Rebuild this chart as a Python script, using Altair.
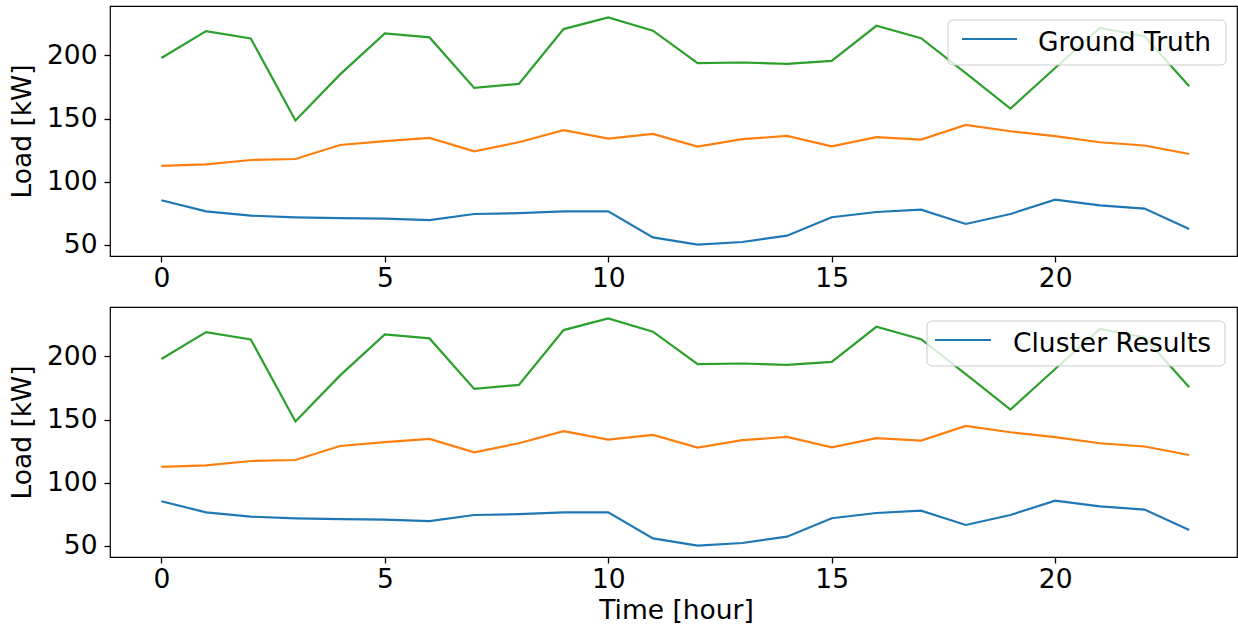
import altair as alt
import pandas as pd

# ---- data ----
hours = list(range(24))
load_blue = [85.2, 76.4, 73.0, 71.7, 71.1, 70.6, 69.5, 74.3, 75.0, 76.4, 76.4, 55.8,
             50.0, 52.1, 57.1, 71.7, 75.9, 77.8, 66.4, 74.3, 85.7, 81.2, 78.6, 62.4]
load_orange = [112.4, 113.7, 117.1, 117.9, 129.0, 132.0, 134.6, 124.0, 131.2, 140.7, 134.1, 137.8,
               127.8, 133.6, 136.2, 128.0, 135.2, 133.3, 144.9, 139.9, 136.0, 131.2, 128.6, 121.9]
load_green = [198.0, 219.3, 213.5, 148.4, 185.0, 217.5, 214.3, 174.3, 177.5, 220.9, 230.2, 219.6,
              193.9, 194.4, 193.3, 195.7, 223.5, 213.7, 186.0, 157.9, 190.0, 221.9, 215.3, 175.6]
series_keys = ["Cluster 1", "Cluster 2", "Cluster 3"]
series_colors = ["#1f77b4", "#ff7f0e", "#2ca02c"]
panel_labels = ["Ground Truth", "Cluster Results"]
x_ticks = [0, 5, 10, 15, 20]
y_ticks = [50, 100, 150, 200]

rows = []
for key, vals in zip(series_keys, [load_blue, load_orange, load_green]):
    for h, v in zip(hours, vals):
        rows.append({"hour": h, "load": v, "series": key})
df = pd.DataFrame(rows)

FONT = "DejaVu Sans"
FS = 26.5
W, H = 1127, 250

# legend geometry per panel (pixels inside the panel)
legend_geom = [
    dict(bx0=838, bx1=1116, lx0=852, lx1=907, tx=928),
    dict(bx0=817, bx1=1115, lx0=825, lx1=881, tx=903),
]


def panel(i, bottom):
    x_axis_kwargs = dict(values=x_ticks, domain=False, grid=False, tickSize=6, tickWidth=1.3,
                         tickColor="black", labelFont=FONT, labelFontSize=FS, labelColor="black",
                         labelPadding=3)
    if bottom:
        x_axis = alt.Axis(title="Time [hour]", titleFont=FONT, titleFontSize=FS,
                          titleFontWeight="normal", titleColor="black", titleX=566, titleY=61,
                          titleBaseline="alphabetic", titleAlign="center", **x_axis_kwargs)
    else:
        x_axis = alt.Axis(title=None, **x_axis_kwargs)
    y_axis = alt.Axis(values=y_ticks, domain=False, grid=False, tickSize=6, tickWidth=1.3,
                      tickColor="black", labelFont=FONT, labelFontSize=FS, labelColor="black",
                      labelPadding=7, title="Load [kW]", titleFont=FONT, titleFontSize=FS,
                      titleFontWeight="normal", titleColor="black", titleAngle=270,
                      titleX=-80, titleY=125, titleAlign="center", titleBaseline="alphabetic")
    lines = alt.Chart(df).mark_line(strokeWidth=2.2).encode(
        x=alt.X("hour:Q", scale=alt.Scale(domain=[-1.15, 24.07], nice=False, zero=False), axis=x_axis),
        y=alt.Y("load:Q", scale=alt.Scale(domain=[41, 239.2], nice=False, zero=False), axis=y_axis),
        color=alt.Color("series:N", scale=alt.Scale(domain=series_keys, range=series_colors), legend=None),
    )
    g = legend_geom[i]
    ldf = pd.DataFrame({"label": [panel_labels[i]]})
    box = alt.Chart(ldf).mark_rect(fill="white", fillOpacity=0.8, stroke="#cccccc", strokeWidth=1,
                                   cornerRadius=5).encode(
        x=alt.value(g["bx0"]), x2=alt.value(g["bx1"]), y=alt.value(14), y2=alt.value(59))
    handle = alt.Chart(ldf).mark_rule(color=series_colors[0], strokeWidth=2.2).encode(
        x=alt.value(g["lx0"]), x2=alt.value(g["lx1"]), y=alt.value(33))
    text = alt.Chart(ldf).mark_text(align="left", baseline="alphabetic", font=FONT, fontSize=FS,
                                    color="black").encode(
        x=alt.value(g["tx"]), y=alt.value(44.5), text="label:N")
    return alt.layer(lines, box, handle, text).properties(width=W, height=H)


chart = alt.vconcat(panel(0, False), panel(1, True), spacing=13).properties(
    padding={"left": 8, "top": 5, "right": 0, "bottom": 0}
).configure_view(stroke="black", strokeWidth=1.2)

chart.save("out.html", embed_options={"renderer": "svg", "actions": False})
